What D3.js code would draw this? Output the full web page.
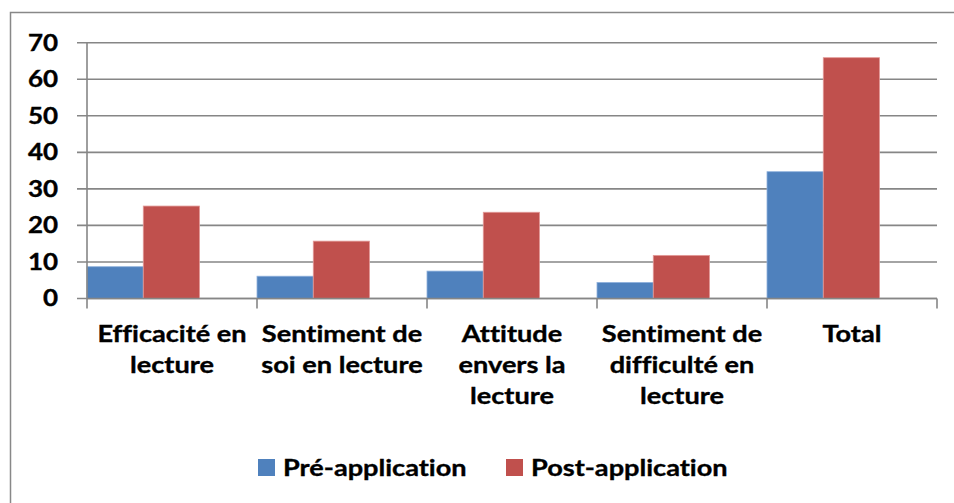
<!DOCTYPE html>
<html>
<head>
<meta charset="utf-8">
<script src="https://cdn.jsdelivr.net/npm/d3@7"></script>
<style>
  body { margin: 0; background: #fff; }
  svg text { font-family: Lato, "Open Sans", sans-serif; font-weight: bold; fill: #000; stroke: #000; stroke-width: 0.35px; font-variant-ligatures: none; }
</style>
</head>
<body>
<svg id="chart" width="954" height="503"></svg>
<script>
// chart data
var categories = ["Efficacité en\nlecture", "Sentiment de\nsoi en lecture", "Attitude\nenvers la\nlecture", "Sentiment de\ndifficulté en\nlecture", "Total"];
var seriesNames = ["Pré-application", "Post-application"];
var preValues = [8.7, 6.1, 7.5, 4.4, 34.7];
var postValues = [25.3, 15.7, 23.6, 11.8, 65.9];
var yTicks = [0, 10, 20, 30, 40, 50, 60, 70];
var colors = ["#4F81BD", "#C0504D"];
var strokes = ["#8FB1DC", "#E39A98"];

var svg = d3.select("#chart");

// plot box (note: "top" is taken by window.top, so other names)
var plotLeft = 87, plotRight = 937, plotTop = 42.7, plotBottom = 298.5;
// the picture is a bit wider than tall, text looks stretched sideways
var stretch = 1.18;

// outer frame (cut off at right and bottom like the picture)
svg.append("rect")
	.attr("x", 10.5).attr("y", 12.5)
	.attr("width", 1000).attr("height", 1000)
	.attr("fill", "none").attr("stroke", "#888").attr("stroke-width", 1.5);

var xScale = d3.scaleBand()
	.domain(categories)
	.range([plotLeft, plotRight])
	.padding(0);

var barScale = d3.scaleBand()
	.domain(seriesNames)
	.range([0, xScale.bandwidth() * 0.662]);

var yScale = d3.scaleLinear()
	.domain([0, 70])
	.range([plotBottom, plotTop]);

// gridlines, they run into the tick marks left of the axis
svg.append("g").selectAll("line")
	.data(yTicks)
	.enter().append("line")
	.attr("x1", plotLeft - 10).attr("x2", plotRight)
	.attr("y1", function(d){ return yScale(d); })
	.attr("y2", function(d){ return yScale(d); })
	.attr("stroke", "#868686").attr("stroke-width", 1.6);

// y axis labels
svg.append("g").selectAll("text")
	.data(yTicks)
	.enter().append("text")
	.attr("text-anchor", "end")
	.attr("dy", "0.36em")
	.style("font-size", "22px")
	.attr("transform", function(d){ return "translate(58," + yScale(d) + ") scale(" + stretch + ",1)"; })
	.text(function(d){ return d; });

// bars
var rows = categories.map(function(c, i){ return {cat: c, vals: [preValues[i], postValues[i]]}; });
var groups = svg.append("g").selectAll("g")
	.data(rows)
	.enter().append("g")
	.attr("transform", function(d){ return "translate(" + xScale(d.cat) + ",0)"; });

groups.selectAll("rect")
	.data(function(d){ return d.vals.map(function(v, j){ return {name: seriesNames[j], v: v, j: j}; }); })
	.enter().append("rect")
	.attr("x", function(d){ return barScale(d.name); })
	.attr("width", barScale.bandwidth())
	.attr("y", function(d){ return yScale(d.v); })
	.attr("height", function(d){ return plotBottom - yScale(d.v); })
	.attr("fill", function(d){ return colors[d.j]; })
	.attr("stroke", function(d){ return strokes[d.j]; })
	.attr("stroke-width", 0.8);

// vertical axis line
svg.append("line")
	.attr("x1", plotLeft).attr("x2", plotLeft)
	.attr("y1", plotTop).attr("y2", plotBottom)
	.attr("stroke", "#868686").attr("stroke-width", 1.6);

// x axis with ticks on the category boundaries
var bounds = categories.map(function(c){ return xScale(c); }).concat([plotRight]);
svg.append("line")
	.attr("x1", plotLeft).attr("x2", plotRight)
	.attr("y1", plotBottom).attr("y2", plotBottom)
	.attr("stroke", "#868686").attr("stroke-width", 1.6);
svg.append("g").selectAll("line")
	.data(bounds)
	.enter().append("line")
	.attr("x1", function(d){ return d; }).attr("x2", function(d){ return d; })
	.attr("y1", plotBottom).attr("y2", plotBottom + 10)
	.attr("stroke", "#868686").attr("stroke-width", 1.6);

// category labels, several lines each
var labels = svg.append("g").selectAll("text")
	.data(categories)
	.enter().append("text")
	.attr("text-anchor", "middle")
	.style("font-size", "23px")
	.attr("transform", function(d){ return "translate(" + (xScale(d) + xScale.bandwidth() / 2) + ",341.5) scale(" + stretch + ",1)"; });
labels.each(function(d){
	var t = d3.select(this);
	d.split("\n").forEach(function(line, k){
		t.append("tspan").attr("x", 0).attr("y", k * 31.5).text(line);
	});
});

// legend
var legendX = [258, 506];
var legend = svg.append("g").selectAll("g")
	.data(seriesNames)
	.enter().append("g")
	.attr("transform", function(d, i){ return "translate(" + legendX[i] + ",459)"; });
legend.append("rect")
	.attr("width", 17).attr("height", 17)
	.attr("fill", function(d, i){ return colors[i]; });
legend.append("text")
	.attr("transform", "translate(25,17) scale(" + stretch + ",1)")
	.style("font-size", "23px")
	.text(function(d){ return d; });
</script>
</body>
</html>
